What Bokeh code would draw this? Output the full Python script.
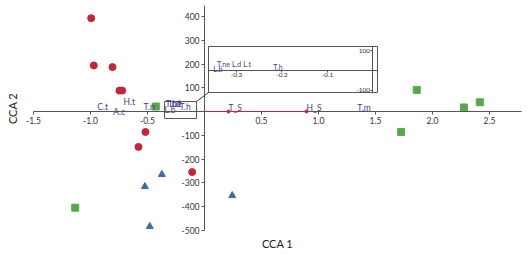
import math
from bokeh.plotting import figure
from bokeh.models import (LinearAxis, Range1d, FixedTicker, Label)
from bokeh.core.properties import value
from bokeh.embed import file_html
from bokeh.resources import INLINE

# ---- data ----
red_x = [-0.994, -0.971, -0.807, -0.746, -0.722, -0.518, -0.579, -0.108]
red_y = [393, 194, 187, 88, 88, -86, -149, -255]
blue_x = [-0.374, -0.523, -0.48, 0.243]
blue_y = [-265, -316, -484, -354]
green_x = [-1.134, -0.427, 1.862, 2.275, 2.415, 1.725]
green_y = [-405, 21, 91, 17, 39, -86]

species_names = ["C.t", "A.c", "H.t", "T.n", "T.m", "L.b", "T.ne", "L.d", "L.t", "T.h"]
species_x = [-0.94, -0.80, -0.71, -0.535, 1.34, -0.351, -0.343, -0.31, -0.285, -0.219]
species_y = [17, 0, 42, 17, 13, 8, 33, 33, 33, 20]

env_names = ["T_S", "H_S"]
env_x = [0.21, 0.895]
env_y = [0, 0]

x_ticks = [-1.5, -1.0, -0.5, 0.5, 1.0, 1.5, 2.0, 2.5]
x_tick_labels = ["-1.5", "-1.0", "-0.5", "0.5", "1.0", "1.5", "2.0", "2.5"]
y_ticks = [-500, -400, -300, -200, -100, 100, 200, 300, 400]
y_tick_labels = ["-500", "-400", "-300", "-200", "-100", "100", "200", "300", "400"]
inset_x_ticks = [-0.3, -0.2, -0.1]
inset_x_tick_labels = ["-0.3", "-0.2", "-0.1"]
inset_y_ticks = [-100, 100]
inset_y_tick_labels = ["-100", "100"]

# zoom window (main coords) and inset frame (inset coords)
zoom_win = [-0.351, -0.07, -29.5, 42]
inset_box = [-0.3615, 0.0099, -111.4, 121.5]
connector_end = [0.035, 80]

FONT = "Lato"
LABEL_COLOR = "#40408f"
TICK_COLOR = "#333333"

p = figure(width=528, height=255, output_backend="svg", toolbar_location=None,
           x_range=Range1d(-1.7895, 2.842), y_range=Range1d(-606.3, 467.4),
           min_border=0)
p.outline_line_color = None
p.xgrid.visible = False
p.ygrid.visible = False
p.background_fill_color = "white"
p.border_fill_color = "white"

# main axes crossing at origin
for ax, ticks, labels, bnds in [(p.xaxis[0], x_ticks, x_tick_labels, (-1.5, 2.78)),
                                (p.yaxis[0], y_ticks, y_tick_labels, (-500, 445))]:
    ax.fixed_location = 0
    ax.ticker = FixedTicker(ticks=ticks)
    ax.major_label_overrides = {t: l for t, l in zip(ticks, labels)}
    ax.bounds = bnds
    ax.axis_line_color = "#555555"
    ax.major_tick_line_color = "#555555"
    ax.minor_tick_line_color = None
    ax.major_tick_in = 0
    ax.major_tick_out = 3
    ax.major_label_text_font = FONT
    ax.major_label_text_font_size = "8.5px"
    ax.major_label_text_color = TICK_COLOR
    ax.major_label_standoff = 2

# inset ranges
p.extra_x_ranges = {"ix": Range1d(-0.8187, 0.3418)}
p.extra_y_ranges = {"iy": Range1d(-936.7, 354.4)}

# zoom window rectangle
p.quad(left=zoom_win[0], right=zoom_win[1], bottom=zoom_win[2], top=zoom_win[3],
       fill_color=None, line_color="#555555", line_width=1)

# markers
p.scatter(red_x, red_y, marker="circle", size=7, fill_color="#c8233b", line_color="#c8233b")
p.scatter(blue_x, blue_y, marker="triangle", size=7, fill_color="#3e6ca8", line_color="#3e6ca8")
p.scatter(green_x, green_y, marker="square", size=7, fill_color="#55aa4c", line_color="#55aa4c")

# env arrows
seg = p.segment(x0=[0] * len(env_x), y0=[0] * len(env_y), x1=env_x, y1=env_y,
                line_color="#c8233b", line_width=1)
seg.level = "overlay"
tips = p.scatter(env_x, env_y, marker="circle", size=3, fill_color="#c8233b", line_color="#c8233b")
tips.level = "overlay"
p.text(env_x, env_y, text=env_names, text_font=value(FONT), text_font_size="8.5px",
       text_color=LABEL_COLOR, text_align="left", text_baseline="middle", y_offset=-4)

# species labels (main)
p.text(species_x, species_y, text=species_names, text_font=value(FONT), text_font_size="8.5px",
       text_color=LABEL_COLOR, text_align="left", text_baseline="middle")

# ---- inset ----
p.quad(left=inset_box[0], right=inset_box[1], bottom=inset_box[2], top=inset_box[3],
       fill_color="white", line_color="#555555", line_width=1,
       x_range_name="ix", y_range_name="iy")

p.segment(x0=[zoom_win[1]], y0=[zoom_win[3]], x1=[connector_end[0]], y1=[connector_end[1]],
          line_color="#333333", line_width=1)

in_x, in_y, in_t = [], [], []
for n, x, y in zip(species_names, species_x, species_y):
    if zoom_win[0] - 0.01 <= x <= zoom_win[1] and zoom_win[2] <= y <= zoom_win[3]:
        in_x.append(x); in_y.append(y); in_t.append(n)
p.text(in_x, in_y, text=in_t, text_font=value(FONT), text_font_size="7px",
       text_color=LABEL_COLOR, text_align="left", text_baseline="middle",
       x_range_name="ix", y_range_name="iy")

ix_axis = LinearAxis(x_range_name="ix", y_range_name="iy", fixed_location=0,
                     ticker=FixedTicker(ticks=inset_x_ticks),
                     major_label_overrides={t: l for t, l in zip(inset_x_ticks, inset_x_tick_labels)},
                     bounds=(inset_box[0], inset_box[1]))
iy_axis = LinearAxis(x_range_name="ix", y_range_name="iy", fixed_location=0,
                     ticker=FixedTicker(ticks=inset_y_ticks),
                     major_label_overrides={t: l for t, l in zip(inset_y_ticks, inset_y_tick_labels)},
                     bounds=(inset_box[2], inset_box[3]))
for ax in (ix_axis, iy_axis):
    ax.axis_line_color = "#555555"
    ax.major_tick_line_color = "#555555"
    ax.minor_tick_line_color = None
    ax.major_tick_in = 0
    ax.major_tick_out = 2
    ax.major_label_text_font = FONT
    ax.major_label_text_font_size = "6.5px"
    ax.major_label_text_color = TICK_COLOR
    ax.major_label_standoff = 1
p.add_layout(ix_axis, "below")
p.add_layout(iy_axis, "left")

# axis titles
p.add_layout(Label(x=277, y=12, x_units="screen", y_units="screen", text="CCA 1",
                   text_font=FONT, text_font_size="11px", text_color="#222222",
                   text_align="center", text_baseline="middle"))
p.add_layout(Label(x=12, y=147, x_units="screen", y_units="screen", text="CCA 2",
                   angle=math.pi / 2, text_font=FONT, text_font_size="11px",
                   text_color="#222222", text_align="center", text_baseline="middle"))

open("out.html", "w").write(file_html(p, INLINE))
